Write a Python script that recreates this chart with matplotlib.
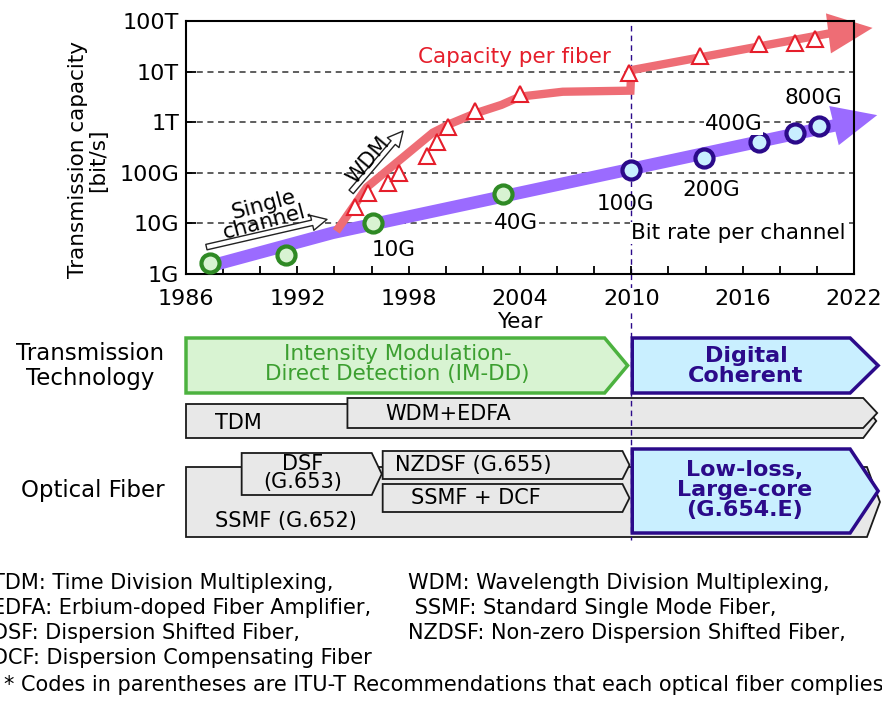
import numpy as np
import matplotlib
matplotlib.use('Agg')
import matplotlib.pyplot as plt
from matplotlib.patches import Polygon
from matplotlib.ticker import FixedLocator, LogLocator, NullFormatter

# bit rate per channel (circles)
imdd_years = [1987.3, 1991.4, 1996.1, 2003.1]
imdd_rates = [1.65e9, 2.4e9, 1.0e10, 3.8e10]
coh_years = [2010.0, 2013.9, 2016.9, 2018.8, 2020.1]
coh_rates = [1.14e11, 1.96e11, 4.0e11, 6.1e11, 8.4e11]

# capacity per fiber (triangles)
cap_years = [1995.1, 1995.8, 1996.9, 1997.5, 1999.0, 1999.5, 2000.1,
             2001.6, 2004.0, 2009.9, 2013.7, 2016.9, 2018.8, 2019.9]
cap_vals = [2.1e10, 4.0e10, 6.3e10, 1.0e11, 2.15e11, 4.0e11, 8.0e11,
            1.66e12, 3.6e12, 9.4e12, 2.0e13, 3.5e13, 3.7e13, 4.4e13]

# trend bands
chan_trend_years = [1987.3, 1993.9, 2021.0]
chan_trend_vals = [1.44e9, 6.5e9, 8.7e11]
chan_tip = (2023.25, 1.38e12)
fib_trend_years = [1994.1, 1995.75, 1999.3, 2000.3, 2001.6, 2003.0, 2004.0,
                   2006.3, 2009.95, 2010.0, 2020.8]
fib_trend_vals = [7e9, 5.2e10, 6.2e11, 9.5e11, 1.5e12, 2.2e12, 3.2e12,
                  4.0e12, 4.2e12, 1.07e13, 5.8e13]
fib_tip = (2023.0, 7.3e13)

ytick_vals = [1e9, 1e10, 1e11, 1e12, 1e13, 1e14]
ytick_labels = ['1G', '10G', '100G', '1T', '10T', '100T']

# timeline bars
tech_labels = ['Intensity Modulation-\nDirect Detection (IM-DD)', 'Digital\nCoherent']
tech_start = [1986.0, 2010.05]
tech_end = [2009.8, 2023.3]
mux_labels = ['TDM', 'WDM+EDFA']
mux_start = [1986.0, 1994.7]
mux_end = [2023.2, 2023.25]
fiber_labels = ['SSMF (G.652)', 'DSF\n(G.653)', 'NZDSF (G.655)', 'SSMF + DCF',
                'Low-loss,\nLarge-core\n(G.654.E)']
fiber_start = [1986.0, 1989.0, 1996.6, 1996.6, 2010.05]
fiber_end = [2023.4, 1996.55, 2009.9, 2009.9, 2023.3]

PURPLE = '#9b6bff'
RED = '#ee6d75'
TRI = '#e51e2b'
GREEN_E = '#2f8a25'
GREEN_F = '#d8f3d2'
INDIGO = '#2b0a8a'
BLUE_F = '#c9efff'
W, H = 882, 702
FS = 15.5

fig = plt.figure(figsize=(W / 100, H / 100), dpi=100)
ax = fig.add_axes([186 / W, 1 - 274 / H, 668 / W, 253 / H])
ax.set_zorder(3)
ax.set_xlim(1986, 2022)
ax.set_yscale('log')
ax.set_ylim(1e9, 1e14)

for yv in ytick_vals[1:-1]:
    ax.axhline(yv, color='#333333', lw=1.1, ls=(0, (4, 3)), zorder=1)
ax.axvline(2010, color=INDIGO, lw=1.0, ls=(0, (4, 3)), zorder=1)

# thick trend bands
ax.plot(chan_trend_years, chan_trend_vals, color=PURPLE, lw=9, solid_capstyle='butt',
        solid_joinstyle='miter', zorder=2, clip_on=False)
ax.annotate('', xy=chan_tip, xytext=(chan_trend_years[-1], chan_trend_vals[-1]),
            arrowprops=dict(arrowstyle='-|>,head_length=3.2,head_width=1.45', mutation_scale=10,
                            fc=PURPLE, ec=PURPLE, lw=0, shrinkA=0, shrinkB=0),
            annotation_clip=False, zorder=2)
ax.plot(fib_trend_years, fib_trend_vals, color=RED, lw=6, solid_capstyle='butt',
        solid_joinstyle='miter', zorder=2, clip_on=False)
ax.annotate('', xy=fib_tip, xytext=(fib_trend_years[-1], fib_trend_vals[-1]),
            arrowprops=dict(arrowstyle='-|>,head_length=3.2,head_width=1.45', mutation_scale=10,
                            fc=RED, ec=RED, lw=0, shrinkA=0, shrinkB=0),
            annotation_clip=False, zorder=2)

ax.plot(cap_years, cap_vals, ls='none', marker='^', ms=11.5, mfc='white', mec=TRI,
        mew=1.5, zorder=4, clip_on=False)
ax.plot(imdd_years, imdd_rates, ls='none', marker='o', ms=13, mfc=GREEN_F, mec=GREEN_E,
        mew=3, zorder=4, clip_on=False)
ax.plot(coh_years, coh_rates, ls='none', marker='o', ms=13, mfc=BLUE_F, mec=INDIGO,
        mew=3, zorder=4, clip_on=False)

# hollow arrows
hollow = dict(arrowstyle='simple,head_width=1.1,head_length=1.1,tail_width=0.4',
              mutation_scale=10, fc='white', ec='#222222', lw=1, shrinkA=0, shrinkB=0)
ax.annotate('', xy=(1993.6, 1.2e10), xytext=(1987.1, 3.4e9), arrowprops=hollow, zorder=3)
ax.annotate('', xy=(1997.7, 6.7e11), xytext=(1994.9, 4.2e10), arrowprops=hollow, zorder=3)
ax.text(1990.3, 1.6e10, 'Single\nchannel.', fontsize=FS, rotation=15, ha='center',
        va='center', linespacing=0.85, zorder=5)
ax.text(1995.8, 1.8e11, 'WDM', fontsize=15, rotation=50, ha='center', va='center', zorder=5)

white = dict(facecolor='white', edgecolor='none', pad=0.5)
ax.text(2003.7, 1.9e13, 'Capacity per fiber', color=TRI, fontsize=FS, ha='center',
        va='center', zorder=5)
ax.text(1997.2, 3.0e9, '10G', fontsize=FS, ha='center', va='center', zorder=5)
ax.text(2003.8, 1.0e10, '40G', fontsize=FS, ha='center', va='center', bbox=white, zorder=5)
ax.text(2009.7, 2.4e10, '100G', fontsize=FS, ha='center', va='center', zorder=5)
ax.text(2014.3, 4.6e10, '200G', fontsize=FS, ha='center', va='center', zorder=5)
ax.text(2015.5, 9.1e11, '400G', fontsize=FS, ha='center', va='center', bbox=white, zorder=5)
ax.text(2019.8, 3.0e12, '800G', fontsize=FS, ha='center', va='center', zorder=5)
ax.text(2015.75, 6.5e9, 'Bit rate per channel', fontsize=FS, ha='center', va='center',
        bbox=white, zorder=5)

# axes styling
ax.xaxis.set_major_locator(FixedLocator(np.arange(1986, 2023, 2)))
ax.set_xticklabels([str(y) if (y - 1986) % 6 == 0 else '' for y in range(1986, 2023, 2)])
ax.yaxis.set_major_locator(FixedLocator(ytick_vals))
ax.set_yticklabels(ytick_labels)
ax.yaxis.set_minor_locator(LogLocator(base=10, subs=np.arange(2, 10)))
ax.yaxis.set_minor_formatter(NullFormatter())
ax.tick_params(axis='both', which='major', direction='in', length=6, width=1.3,
               labelsize=16)
ax.tick_params(axis='x', which='major', pad=11)
ax.tick_params(axis='y', which='major', length=7, pad=5)
ax.tick_params(axis='y', which='minor', direction='in', length=4, width=1)
for lab in ax.get_xticklabels():
    lab.set_bbox(dict(facecolor='white', edgecolor='none', pad=1))
for s in ax.spines.values():
    s.set_linewidth(1.5)
ax.set_xlabel('Year', fontsize=FS, labelpad=2)
fig.text(88 / W, 1 - 160 / H, 'Transmission capacity\n[bit/s]', rotation=90, fontsize=FS,
         ha='center', va='center', linespacing=1.0)

# lower timeline panel, y in figure pixels from top
lo = fig.add_axes([186 / W, 0, 668 / W, (H - 274) / H])
lo.set_zorder(1)
lo.set_xlim(1986, 2022)
lo.set_ylim(H, 274)
lo.axis('off')
PX = 36 / 668  # years per pixel


def box(x0, x1, top, bot, tip_px, fc, ec, lw, z):
    tip = tip_px * PX
    pts = [(x0, top), (x1 - tip, top), (x1, (top + bot) / 2), (x1 - tip, bot), (x0, bot)]
    lo.add_patch(Polygon(pts, closed=True, fc=fc, ec=ec, lw=lw, zorder=z, clip_on=False,
                         joinstyle='miter'))


GRAY_F = '#e8e8e8'
GRAY_E = '#1a1a1a'
# transmission technology row
box(tech_start[0], tech_end[0], 338, 393, 23, GREEN_F, '#4cb23f', 2.5, 3)
box(tech_start[1], tech_end[1], 338, 393, 28, BLUE_F, INDIGO, 2.5, 3)
lo.text((tech_start[0] + tech_end[0]) / 2 - 0.5, 364, tech_labels[0], color='#3c9f30',
        fontsize=FS, ha='center', va='center', linespacing=0.95)
lo.text((tech_start[1] + tech_end[1]) / 2 - 0.5, 366, tech_labels[1], color=INDIGO,
        fontsize=16, fontweight='bold', ha='center', va='center', linespacing=1.0)
box(mux_start[0], mux_end[0], 404, 438, 13, GRAY_F, GRAY_E, 1.3, 3)
box(mux_start[1], mux_end[1], 398, 428, 14, GRAY_F, GRAY_E, 1.3, 4)
lo.text(1988.8, 423, mux_labels[0], fontsize=15, ha='center', va='center', zorder=6)
lo.text(2000.1, 414, mux_labels[1], fontsize=15, ha='center', va='center', zorder=6)

# optical fiber row
box(fiber_start[0], fiber_end[0], 467, 537, 13, GRAY_F, GRAY_E, 1.3, 3)
box(fiber_start[1], fiber_end[1], 453, 495, 10, GRAY_F, GRAY_E, 1.3, 4)
box(fiber_start[2], fiber_end[2], 451, 479, 7, GRAY_F, GRAY_E, 1.3, 4)
box(fiber_start[3], fiber_end[3], 484, 512, 7, GRAY_F, GRAY_E, 1.3, 4)
box(fiber_start[4], fiber_end[4], 449, 533, 28, BLUE_F, INDIGO, 2.5, 5)
lo.text(1991.4, 521, fiber_labels[0], fontsize=15, ha='center', va='center', zorder=6)
lo.text(1992.3, 473, fiber_labels[1], fontsize=15, ha='center', va='center',
        linespacing=0.85, zorder=6)
lo.text(2001.5, 465, fiber_labels[2], fontsize=15, ha='center', va='center', zorder=6)
lo.text(2001.6, 498, fiber_labels[3], fontsize=15, ha='center', va='center', zorder=6)
lo.text(2016.1, 490, fiber_labels[4], color=INDIGO, fontsize=16, fontweight='bold',
        ha='center', va='center', linespacing=1.0, zorder=6)

lo.plot([2010, 2010], [274, 540], color=INDIGO, lw=1.0, ls=(0, (4, 3)), zorder=7,
        clip_on=False)

fig.text(90 / W, 1 - 366 / H, 'Transmission\nTechnology', fontsize=16.5, ha='center',
         va='center', linespacing=1.1)
fig.text(93 / W, 1 - 490 / H, 'Optical Fiber', fontsize=16.5, ha='center', va='center')

# footnotes
foot_left = ['TDM: Time Division Multiplexing,', 'EDFA: Erbium-doped Fiber Amplifier,',
             'DSF: Dispersion Shifted Fiber,', 'DCF: Dispersion Compensating Fiber']
foot_right = ['WDM: Wavelength Division Multiplexing,', ' SSMF: Standard Single Mode Fiber,',
              'NZDSF: Non-zero Dispersion Shifted Fiber,']
for i, t in enumerate(foot_left):
    fig.text(-8 / W, 1 - (583 + 25 * i) / H, t, fontsize=15, ha='left', va='center')
for i, t in enumerate(foot_right):
    fig.text(408 / W, 1 - (583 + 25 * i) / H, t, fontsize=15, ha='left', va='center')
fig.text(4 / W, 1 - 685 / H,
         '* Codes in parentheses are ITU-T Recommendations that each optical fiber complies with.',
         fontsize=15, ha='left', va='center')

fig.savefig('out.png', dpi=100)
